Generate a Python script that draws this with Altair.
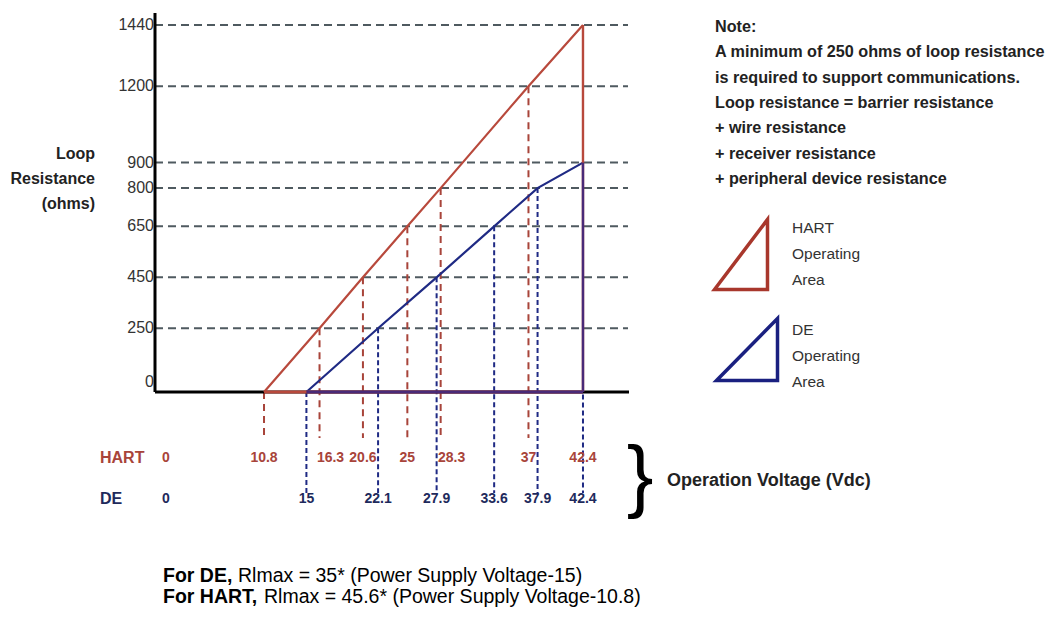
import altair as alt
import pandas as pd

# ---------------- data ----------------
res_ticks = [0, 250, 450, 650, 800, 900, 1200, 1440]
hart_volts = [10.8, 16.3, 20.6, 25, 28.3, 37, 42.4]
hart_res = [0, 250, 450, 650, 800, 1200, 1440]
hart_text = ["10.8", "16.3", "20.6", "25", "28.3", "37", "42.4"]
de_volts = [15, 22.1, 27.9, 33.6, 37.9, 42.4]
de_res = [0, 250, 450, 650, 800, 900]
de_text = ["15", "22.1", "27.9", "33.6", "37.9", "42.4"]

note_lines = [
    "Note:",
    "A minimum of 250 ohms of loop resistance",
    "is required to support communications.",
    "Loop resistance = barrier resistance",
    "+ wire resistance",
    "+ receiver resistance",
    "+ peripheral device resistance",
]
axis_title_lines = ["Loop", "Resistance", "(ohms)"]
legend_hart = ["HART", "Operating", "Area"]
legend_de = ["DE", "Operating", "Area"]
formula_bold = ["For DE,", "For HART,"]
formula_text = ["Rlmax = 35* (Power Supply Voltage-15)",
                "Rlmax = 45.6* (Power Supply Voltage-10.8)"]
xlabel = "Operation Voltage (Vdc)"
shifted_labels = ["16.3", "28.3"]   # HART labels drawn beside a nearby DE guide

# ---------------- styles ----------------
FONT = "Liberation Sans, Arial, sans-serif"
HART_C = "#b8493c"
HART_T = "#a8443a"
DE_C = "#1f2a84"
DE_EDGE = "#4a2a78"
DE_T = "#1e2a5c"
GRID = "#4f5a60"
TXT = "#222222"

W, H = 1041, 601


def px(x):
    return x - 8


def py(y):
    return y - 8


# 0 V at x=155 px, 42.4 V at x=583 px ; 0 ohm at y=392 px, 1440 ohm at y=25 px
X = alt.Scale(domain=[-14.563, 88.568], nice=False, zero=False)
Y = alt.Scale(domain=[-851.5, 1506.7], nice=False, zero=False)


def xq(f):
    return alt.X(f, type="quantitative", scale=X, axis=None)


def yq(f):
    return alt.Y(f, type="quantitative", scale=Y, axis=None)


ticks_df = pd.DataFrame({"r": res_ticks})
hart = pd.DataFrame({"v": hart_volts, "r": hart_res, "t": hart_text})
de = pd.DataFrame({"v": de_volts, "r": de_res, "t": de_text})
origin = pd.DataFrame({"v": [0], "r": [0]})
tri = pd.DataFrame({
    "s": ["HART", "DE"],
    "v0": [hart_volts[0], de_volts[0]],
    "v1": [hart_volts[-1], de_volts[-1]],
    "top": [hart_res[-1], de_res[-1]],
})
tri_color = alt.Color("s:N", scale=alt.Scale(domain=["HART", "DE"], range=[HART_C, DE_EDGE]), legend=None)

layers = []

# grid lines
layers.append(
    alt.Chart(ticks_df).transform_filter("datum.r > 0").transform_calculate(v0="0")
    .mark_rule(color=GRID, strokeDash=[8, 5], strokeWidth=2)
    .encode(x=xq("v0"), x2=alt.value(px(628)), y=yq("r"))
)

# dashed verticals
layers.append(
    alt.Chart(hart.iloc[:-1]).mark_rule(color=HART_T, strokeDash=[7, 5], strokeWidth=2)
    .encode(x=xq("v"), y=yq("r"), y2=alt.value(py(438)))
)
layers.append(
    alt.Chart(de).mark_rule(color=DE_C, strokeDash=[5, 3], strokeWidth=2)
    .encode(x=xq("v"), y=yq("r"), y2=alt.value(py(493)))
)

# axes
layers.append(
    alt.Chart(origin).mark_rule(color="black", strokeWidth=3)
    .encode(x=xq("v"), y=yq("r"), y2=alt.value(py(13)))
)
layers.append(
    alt.Chart(origin).mark_rule(color="black", strokeWidth=3)
    .encode(x=xq("v"), x2=alt.value(px(629)), y=yq("r"))
)

# triangles
layers.append(
    alt.Chart(hart).mark_line(color=HART_C, strokeWidth=2.2).encode(x=xq("v"), y=yq("r"))
)
layers.append(
    alt.Chart(de).mark_line(color=DE_C, strokeWidth=2.2).encode(x=xq("v"), y=yq("r"))
)
layers.append(
    alt.Chart(tri).transform_calculate(z="0").mark_rule(strokeWidth=2.4)
    .encode(x=xq("v1"), y=yq("top"), y2=alt.Y2("z"), color=tri_color)
)
layers.append(
    alt.Chart(tri).transform_calculate(z="0").mark_rule(strokeWidth=3)
    .encode(x=xq("v0"), x2=alt.X2("v1"), y=yq("z"), color=tri_color)
)

# y tick labels
layers.append(
    alt.Chart(ticks_df).transform_filter("datum.r > 0")
    .mark_text(align="right", baseline="middle", font=FONT, fontSize=16, color="#333333")
    .encode(x=alt.value(px(154)), y=yq("r"), text=alt.Text("r:Q", format="d"))
)
layers.append(
    alt.Chart(ticks_df).transform_filter("datum.r == 0")
    .mark_text(align="right", baseline="middle", font=FONT, fontSize=16, color="#333333", dy=-10)
    .encode(x=alt.value(px(154)), y=yq("r"), text=alt.Text("r:Q", format="d"))
)

# voltage label rows
shift_test = alt.FieldOneOfPredicate(field="t", oneOf=shifted_labels)
layers.append(
    alt.Chart(hart).transform_filter(alt.LogicalNotPredicate(**{"not": shift_test}))
    .mark_text(font=FONT, fontWeight="bold", fontSize=14, color=HART_T, baseline="middle")
    .encode(x=xq("v"), y=alt.value(py(458)), text="t:N")
)
layers.append(
    alt.Chart(hart).transform_filter(shift_test)
    .mark_text(font=FONT, fontWeight="bold", fontSize=14, color=HART_T, baseline="middle", dx=11)
    .encode(x=xq("v"), y=alt.value(py(458)), text="t:N")
)
layers.append(
    alt.Chart(de).mark_text(font=FONT, fontWeight="bold", fontSize=14, color=DE_T, baseline="middle")
    .encode(x=xq("v"), y=alt.value(py(499)), text="t:N")
)


def ann(text, x, y, **kw):
    opts = dict(font=FONT, baseline="middle", color=TXT)
    opts.update(kw)
    return (alt.Chart(pd.DataFrame({"t": [text]})).mark_text(lineBreak="\n", **opts)
            .encode(x=alt.value(px(x)), y=alt.value(py(y)), text="t:N"))


layers += [
    ann("HART", 100, 458, align="left", fontWeight="bold", fontSize=16, color=HART_T),
    ann("0", 166, 458, align="center", fontWeight="bold", fontSize=14, color=HART_T),
    ann("DE", 100, 499, align="left", fontWeight="bold", fontSize=16, color=DE_T),
    ann("0", 166, 499, align="center", fontWeight="bold", fontSize=14, color=DE_T),
    ann("}", 640, 478, align="center", fontSize=80, color="black"),
    ann(xlabel, 667, 481, align="left", fontWeight="bold", fontSize=18),
    ann("\n".join(axis_title_lines), 95, 154, align="right", fontWeight="bold", fontSize=16, lineHeight=25),
    ann("\n".join(note_lines), 715, 27, align="left", fontWeight="bold", fontSize=16.2, lineHeight=25.3),
    ann("\n".join(legend_hart), 792, 228, align="left", fontSize=15.5, lineHeight=26, color="#333333"),
    ann("\n".join(legend_de), 792, 330, align="left", fontSize=15.5, lineHeight=26, color="#333333"),
    ann(formula_bold[0], 163, 576, align="left", fontWeight="bold", fontSize=19.5, color="black"),
    ann(formula_text[0], 238, 576, align="left", fontSize=19.5, color="black"),
    ann(formula_bold[1], 163, 597, align="left", fontWeight="bold", fontSize=19.5, color="black"),
    ann(formula_text[1], 264, 597, align="left", fontSize=19.5, color="black"),
]


def tri_symbol(path, size, x, y, color):
    return (alt.Chart(pd.DataFrame({"a": [0]}))
            .mark_point(shape=path, size=size, filled=False, strokeWidth=3.5, opacity=1,
                        color=color, strokeJoin="miter")
            .encode(x=alt.value(px(x)), y=alt.value(py(y))))


layers += [
    tri_symbol("M -0.757 1 L 0.757 -1 L 0.757 1 Z", 4900, 741, 254.5, "#a8372c"),
    tri_symbol("M -0.984 1 L 0.984 -1 L 0.984 1 Z", 3844, 747, 349.5, "#1a2080"),
]

chart = alt.layer(*layers).properties(
    width=W, height=H, padding=0, background="white",
    autosize=alt.AutoSizeParams(type="none"),
).configure_view(strokeWidth=0)

chart.save("out.html", embed_options={"renderer": "svg", "actions": False})
